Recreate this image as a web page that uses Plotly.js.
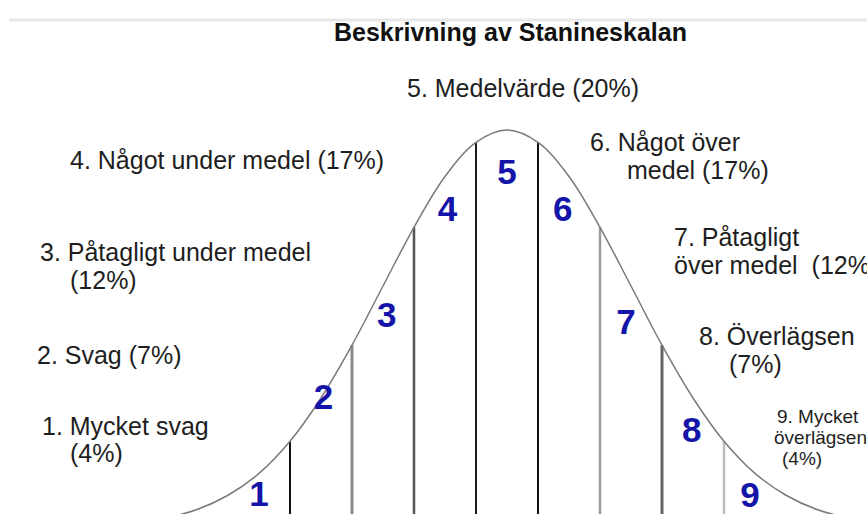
<!DOCTYPE html>
<html>
<head>
<meta charset="utf-8">
<script src="https://cdn.plot.ly/plotly-3.0.1.min.js"></script>
<style>html,body{margin:0;padding:0;background:#fff;}#chart{width:867px;height:514px;}</style>
</head>
<body>
<div id="chart"></div>
<script>
// Bell curve: z (standard deviations) and height relative to the peak
const curveZ = [-3.0, -2.75, -2.5, -2.25, -2.0, -1.75, -1.5, -1.25, -1.0, -0.75, -0.5, -0.25, 0, 0.25, 0.5, 0.75, 1.0, 1.25, 1.5, 1.75, 2.0, 2.25, 2.5, 2.75, 3.0];
const curveH = [0.011, 0.023, 0.044, 0.080, 0.135, 0.216, 0.325, 0.458, 0.607, 0.755, 0.883, 0.969, 1.0, 0.969, 0.883, 0.755, 0.607, 0.458, 0.325, 0.216, 0.135, 0.080, 0.044, 0.023, 0.011];

// Stanine boundaries (z) and the height where each line meets the curve
const boundaryZ = [-1.75, -1.25, -0.75, -0.25, 0.25, 0.75, 1.25, 1.75];
const boundaryTop = [0.216, 0.458, 0.755, 0.969, 0.969, 0.755, 0.458, 0.216];

// Stanine numbers and description labels
const stanines = ['1', '2', '3', '4', '5', '6', '7', '8', '9'];
const titleText = 'Beskrivning av Stanineskalan';
const descLines = [
  ['5. Medelvärde (20%)'],
  ['4. Något under medel (17%)'],
  ['3. Påtagligt under medel', '(12%)'],
  ['2. Svag (7%)'],
  ['1. Mycket svag', '(4%)'],
  ['6. Något över', 'medel (17%)'],
  ['7. Påtagligt', 'över medel  (12%)'],
  ['8. Överlägsen', '(7%)'],
  ['9. Mycket', 'överlägsen', '(4%)']
];

// ---- styling / layout below ----
const W = 867, H = 514;
const px = x => x / W;
const py = y => 1 - y / H;

const boundaryColors = ['#111111', '#8a8a8a', '#555555', '#1a1a1a', '#111111', '#9a9a9a', '#666666', '#bdbdbd'];
const boundaryWidths = [2, 3, 2.5, 2, 2, 2.5, 3, 2.5];

const traces = [];
boundaryZ.forEach((z, i) => {
  traces.push({
    type: 'scatter', mode: 'lines', x: [z, z], y: [0, boundaryTop[i]],
    line: {color: boundaryColors[i], width: boundaryWidths[i]}, hoverinfo: 'skip', showlegend: false
  });
});
traces.push({
  type: 'scatter', mode: 'lines', x: curveZ, y: curveH,
  line: {color: '#7a7a7a', width: 1.5, shape: 'spline'}, hoverinfo: 'skip', showlegend: false
});

// number positions (data coords: z, height)
const numPos = [[-2.0, 0.076], [-1.48, 0.32], [-0.97, 0.526], [-0.48, 0.793], [0.0, 0.887], [0.45, 0.793], [0.96, 0.509], [1.49, 0.237], [1.96, 0.073]];
traces.push({
  type: 'scatter', mode: 'text',
  x: numPos.map(p => p[0]), y: numPos.map(p => p[1]), text: stanines,
  textposition: 'middle center',
  textfont: {family: 'Liberation Sans, Arial, sans-serif', size: 35, color: '#1414a8', weight: 'bold'},
  hoverinfo: 'skip', showlegend: false
});

const FONT = 'Liberation Sans, Arial, sans-serif';
// label block positions: [left x px, first line center y px, line step px, font size, per-line x offsets]
const labelPos = [
  [405, 88, 28, 25, [0]],
  [68, 160, 28, 25, [0]],
  [38, 252, 28, 25, [0, 30]],
  [35, 355, 28, 25, [0]],
  [40, 426, 27, 25, [0, 28]],
  [588, 142, 28, 25, [0, 37]],
  [672, 237, 28, 25, [0, 0]],
  [697, 336, 28, 25, [0, 30]],
  [775, 416, 21, 19, [0, -3, 5]]
];
const annotations = [];
descLines.forEach((lines, i) => {
  const [x0, y0, step, size, offs] = labelPos[i];
  lines.forEach((t, j) => {
    annotations.push({
      text: t, xref: 'paper', yref: 'paper', x: px(x0 + (offs[j] || 0)), y: py(y0 + j * step),
      xanchor: 'left', yanchor: 'middle', showarrow: false,
      font: {family: FONT, size: size, color: '#1e1e1e'}
    });
  });
});
annotations.push({
  text: '<b>' + titleText + '</b>', xref: 'paper', yref: 'paper', x: px(511), y: py(32),
  xanchor: 'center', yanchor: 'middle', showarrow: false,
  font: {family: FONT, size: 25, color: '#111111'}
});

// axis ranges chosen so z=0 sits at x=507px, 1 SD = 124px; peak at y=130px, baseline at y=527px
const xr = [(0 - 507) / 124, (W - 507) / 124];
const yr = [(527 - H) / 397, 527 / 397];

const layout = {
  width: W, height: H,
  margin: {l: 0, r: 0, t: 0, b: 0},
  paper_bgcolor: '#ffffff', plot_bgcolor: '#ffffff',
  xaxis: {range: xr, visible: false, fixedrange: true},
  yaxis: {range: yr, visible: false, fixedrange: true},
  showlegend: false,
  shapes: [{type: 'line', xref: 'paper', yref: 'paper', x0: px(9), x1: 1, y0: py(20), y1: py(20),
            line: {color: '#e8e8e8', width: 3}}],
  annotations: annotations
};

Plotly.newPlot('chart', traces, layout, {staticPlot: true, displayModeBar: false});
</script>
</body>
</html>
